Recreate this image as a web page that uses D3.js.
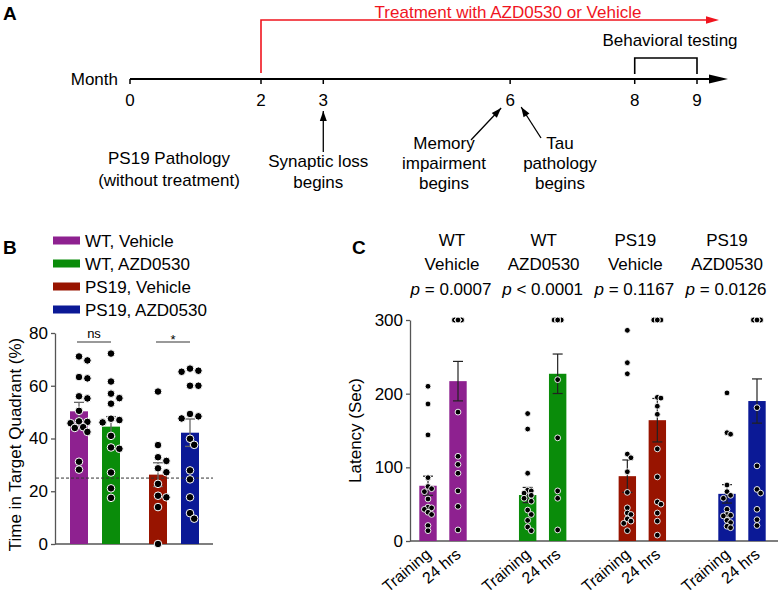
<!DOCTYPE html>
<html><head><meta charset="utf-8">
<script src="https://cdn.jsdelivr.net/npm/d3@7"></script>
<style>
body{margin:0;background:#fff}
svg{display:block}
text{font-family:"Liberation Sans",Arial,Helvetica,sans-serif;fill:#000}
</style>
</head><body>
<svg id="chart" width="778" height="595"></svg>
<script>
// ---------------- Panel A data ----------------
const monthTicks = [0, 2, 3, 6, 8, 9];
const treatmentStart = 2;
const treatmentLabel = "Treatment with AZD0530 or Vehicle";
const testingMonths = [8, 9];
const testingLabel = "Behavioral testing";
const pathologyLabel = ["PS19 Pathology", "(without treatment)"];
const synapticLabel = ["Synaptic loss", "begins"];
const memoryLabel = ["Memory", "impairment", "begins"];
const tauLabel = ["Tau", "pathology", "begins"];

// ---------------- Panel B data ----------------
const bGenotypes = ["WT", "PS19"];
const bTreatments = ["Vehicle", "AZD0530"];
const bLegend = ["WT, Vehicle", "WT, AZD0530", "PS19, Vehicle", "PS19, AZD0530"];
const bColors = ["#8e2190", "#0a8c0a", "#981400", "#0b1996"];
const bMeans = [50.3, 44.5, 26.3, 42.2];
const bSems = [3.4, 3.8, 4.5, 5.2];
const bWTVeh = [71.1, 69.6, 63.3, 62.8, 56.0, 55.2, 50.5, 46.5, 46.3, 45.8, 44.3, 44.0, 42.5, 31.2, 28.2];
const bWTAZD = [72.2, 61.6, 57.0, 55.3, 53.2, 47.5, 47.0, 46.1, 41.0, 36.6, 36.1, 27.1, 21.1, 17.5];
const bPSVeh = [57.8, 37.5, 32.9, 31.5, 28.7, 27.2, 22.8, 18.3, 17.7, 14.0, 0];
const bPSAZD = [66.5, 65.7, 65.3, 60.0, 60.0, 49.3, 48.4, 47.6, 39.9, 37.6, 27.9, 24.5, 17.7, 11.7, 9.6];
const bTicks = [0, 20, 40, 60, 80];
const bChance = 25;
const bSig = ["ns", "*"];
const bYLabel = "Time in Target Quadrant (%)";

// ---------------- Panel C data ----------------
const cGroups = ["WT Vehicle", "WT AZD0530", "PS19 Vehicle", "PS19 AZD0530"];
const cHeadTop = ["WT", "WT", "PS19", "PS19"];
const cHeadBottom = ["Vehicle", "AZD0530", "Vehicle", "AZD0530"];
const cPValues = ["= 0.0007", "< 0.0001", "= 0.1167", "= 0.0126"];
const cSessions = ["Training", "24 hrs"];
const cColors = ["#8e2190", "#0a8c0a", "#981400", "#0b1996"];
const cMeansTraining = [75, 62.4, 88, 64];
const cMeans24h = [217, 227, 164, 190];
const cSemsTraining = [13, 10.3, 22, 12.5];
const cSems24h = [26.8, 26.8, 29.5, 30];
const cWTVehTrain = [210, 186, 144, 86, 74, 71, 67, 57, 46, 45, 43, 39, 36, 21, 14];
const cWTVeh24 = [300, 300, 300, 300, 300, 300, 300, 300, 300, 300, 300, 175, 115, 104, 92, 68, 47, 15];
const cWTAZDTrain = [173, 152, 92, 69, 68, 65, 62, 58, 54, 42, 36, 28, 19, 14];
const cWTAZD24 = [300, 300, 300, 300, 300, 300, 300, 300, 300, 219, 140, 68, 58, 15];
const cPSVehTrain = [286, 242, 227, 118, 113, 94, 66, 45, 38, 36, 30, 27, 24, 14];
const cPSVeh24 = [300, 300, 300, 300, 300, 195, 194, 183, 172, 125, 87, 53, 50, 38, 27, 8];
const cPSAZDTrain = [201, 147, 145, 76, 67, 62, 58, 43, 36, 35, 34, 28, 25, 20, 18];
const cPSAZD24 = [300, 300, 300, 300, 300, 300, 300, 181, 102, 70, 65, 43, 29, 21];
const cTicks = [0, 100, 200, 300];
const cYLabel = "Latency (Sec)";

// ---------------- helpers ----------------
const svg = d3.select("#chart");
const FS = 17;

function swarm(values, y, r, step, maxSteps) {
  const placed = [];
  const thr = 2 * r * 0.85;
  const cands = [0];
  for (let k = 1; k <= maxSteps; k++) { cands.push(k * step, -k * step); }
  values.forEach(v => {
    const py = y(v);
    let best = null, bestD = -1;
    for (const c of cands) {
      let md = Infinity;
      placed.forEach(p => { md = Math.min(md, Math.hypot(p.dx - c, p.py - py)); });
      if (md >= thr) { best = c; bestD = md; break; }
      if (md > bestD) { bestD = md; best = c; }
    }
    placed.push({ v, py, dx: best });
  });
  return placed;
}

function arrowHead(g, x1, y1, x2, y2, len, half, color) {
  const a = Math.atan2(y2 - y1, x2 - x1);
  const bx = x2 - len * Math.cos(a), by = y2 - len * Math.sin(a);
  const px = -Math.sin(a) * half, py = Math.cos(a) * half;
  g.append("path")
    .attr("d", `M${x2},${y2}L${bx + px},${by + py}L${bx - px},${by - py}Z`)
    .attr("fill", color);
}

// ================= Panel A =================
const gA = svg.append("g");
const xA = d3.scaleLinear().domain([0, 2, 9]).range([130, 261, 697]);
const axY = 79;
gA.append("text").attr("x", 3).attr("y", 20).attr("font-size", 19).attr("font-weight", "bold").text("A");
gA.append("text").attr("x", 118).attr("y", 85).attr("text-anchor", "end").attr("font-size", FS).text("Month");
gA.append("line").attr("x1", xA(0)).attr("x2", xA(9) + 16).attr("y1", axY).attr("y2", axY)
  .attr("stroke", "#000").attr("stroke-width", 2);
arrowHead(gA, xA(0), axY, xA(9) + 31, axY, 19, 4.5, "#000");
gA.selectAll(".mt").data(monthTicks).enter().append("line")
  .attr("x1", d => xA(d)).attr("x2", d => xA(d)).attr("y1", axY).attr("y2", axY + 5)
  .attr("stroke", "#000").attr("stroke-width", 1.5);
gA.selectAll(".ml").data(monthTicks).enter().append("text")
  .attr("x", d => xA(d)).attr("y", 106).attr("text-anchor", "middle").attr("font-size", FS).text(d => d);

// treatment red arrow
const red = "#f0141e";
gA.append("path").attr("d", `M${xA(treatmentStart)},${axY - 6}V20H${xA(9) + 10}`)
  .attr("fill", "none").attr("stroke", red).attr("stroke-width", 1.6);
arrowHead(gA, xA(treatmentStart), 20, xA(9) + 22, 20, 13, 3.8, red);
gA.append("text").attr("x", 508).attr("y", 18).attr("text-anchor", "middle").attr("font-size", FS)
  .style("fill", red).text(treatmentLabel);

// behavioral testing bracket
gA.append("path").attr("d", `M${xA(testingMonths[0])},${axY - 5}V58H${xA(testingMonths[1])}V${axY - 5}`)
  .attr("fill", "none").attr("stroke", "#000").attr("stroke-width", 1.6);
gA.append("text").attr("x", 670).attr("y", 46).attr("text-anchor", "middle").attr("font-size", FS).text(testingLabel);

function multiline(g, lines, x, y0, dy) {
  lines.forEach((t, i) => g.append("text").attr("x", x).attr("y", y0 + i * dy)
    .attr("text-anchor", "middle").attr("font-size", FS).text(t));
}
multiline(gA, pathologyLabel, 169, 164, 22);
multiline(gA, synapticLabel, xA(3) - 5, 167, 21);
multiline(gA, memoryLabel, 444, 149, 20);
multiline(gA, tauLabel, 560, 149, 20);

function annArrow(x1, y1, x2, y2) {
  gA.append("line").attr("x1", x1).attr("y1", y1).attr("x2", x2).attr("y2", y2)
    .attr("stroke", "#000").attr("stroke-width", 1.3);
  arrowHead(gA, x1, y1, x2, y2, 10, 3.5, "#000");
}
annArrow(xA(3), 152, xA(3), 111);
annArrow(471, 140, xA(6) - 9, 108);
annArrow(541, 138, xA(6) + 11, 107);

// ================= Panel B =================
const gB = svg.append("g");
gB.append("text").attr("x", 3).attr("y", 254).attr("font-size", 19).attr("font-weight", "bold").text("B");
bLegend.forEach((t, i) => {
  const cy = 240.5 + i * 23;
  gB.append("rect").attr("x", 53).attr("y", cy - 4).attr("width", 27).attr("height", 8).attr("fill", bColors[i]);
  gB.append("text").attr("x", 85).attr("y", cy + 6).attr("font-size", FS).text(t);
});

const yB = d3.scaleLinear().domain([0, 80]).range([544, 333]);
const xBg = d3.scalePoint().domain(bGenotypes).range([95, 174]);
const xBi = d3.scaleBand().domain(bTreatments).range([-32, 32]).paddingInner(0.4375).paddingOuter(0.21875);
const bDots = [bWTVeh, bWTAZD, bPSVeh, bPSAZD];
const bRows = [];
bGenotypes.forEach(g => bTreatments.forEach(t => bRows.push({ g, t })));
bRows.forEach((r, i) => {
  r.mean = bMeans[i]; r.sem = bSems[i]; r.color = bColors[i]; r.dots = bDots[i];
  r.x0 = xBg(r.g) + xBi(r.t); r.cx = r.x0 + xBi.bandwidth() / 2;
});

// axes
const axB = gB.append("g").attr("transform", "translate(55,0)")
  .call(d3.axisLeft(yB).tickValues(bTicks).tickSize(4).tickSizeOuter(0).tickPadding(3));
axB.select(".domain").attr("stroke", "#555").attr("stroke-width", 1.3);
axB.selectAll(".tick line").attr("stroke", "#555").attr("stroke-width", 1.3);
axB.selectAll(".tick text").attr("font-size", FS).attr("font-family", "Liberation Sans, Arial, sans-serif").style("fill", "#000");
gB.append("line").attr("x1", 55).attr("x2", 213).attr("y1", yB(0)).attr("y2", yB(0)).attr("stroke", "#555").attr("stroke-width", 1.3);
gB.append("text").attr("transform", `translate(21,${(yB(0) + yB(80)) / 2 + 6}) rotate(-90)`)
  .attr("text-anchor", "middle").attr("font-size", FS).text(bYLabel);

// bars
gB.selectAll(".bb").data(bRows).enter().append("rect")
  .attr("x", d => d.x0).attr("width", xBi.bandwidth())
  .attr("y", d => yB(d.mean)).attr("height", d => yB(0) - yB(d.mean)).attr("fill", d => d.color);
// chance line
gB.append("line").attr("x1", 56).attr("x2", 213).attr("y1", yB(bChance)).attr("y2", yB(bChance))
  .attr("stroke", "#333").attr("stroke-width", 1).attr("stroke-dasharray", "3,2");
// error bars
bRows.forEach(d => {
  const g = gB.append("g").attr("stroke", "#666").attr("stroke-width", 1.3);
  g.append("line").attr("x1", d.cx).attr("x2", d.cx).attr("y1", yB(d.mean + d.sem)).attr("y2", yB(d.mean - d.sem));
  g.append("line").attr("x1", d.cx - 5).attr("x2", d.cx + 5).attr("y1", yB(d.mean + d.sem)).attr("y2", yB(d.mean + d.sem));
  g.append("line").attr("x1", d.cx - 5).attr("x2", d.cx + 5).attr("y1", yB(d.mean - d.sem)).attr("y2", yB(d.mean - d.sem));
});
// dots
bRows.forEach(d => {
  const pts = swarm(d.dots, yB, 3.8, 4.2, 2);
  gB.selectAll(null).data(pts).enter().append("circle")
    .attr("cx", p => d.cx + p.dx).attr("cy", p => p.py).attr("r", 3.8)
    .attr("fill", "#000").attr("stroke", "#fff").attr("stroke-width", 1);
});
// significance
bGenotypes.forEach((g, i) => {
  const xa = xBg(g) + xBi(bTreatments[0]) + xBi.bandwidth() / 2 - 2;
  const xb = xBg(g) + xBi(bTreatments[1]) + xBi.bandwidth() / 2;
  gB.append("line").attr("x1", xa).attr("x2", xb).attr("y1", 342).attr("y2", 342).attr("stroke", "#777").attr("stroke-width", 1.3);
  gB.append("text").attr("x", (xa + xb) / 2).attr("y", i === 0 ? 338 : 344).attr("text-anchor", "middle")
    .attr("font-size", 13).text(bSig[i]);
});

// ================= Panel C =================
const gC = svg.append("g");
gC.append("text").attr("x", 352).attr("y", 254).attr("font-size", 19).attr("font-weight", "bold").text("C");
const yC = d3.scaleLinear().domain([0, 300]).range([541, 320]);
const xCg = d3.scalePoint().domain(cGroups).range([443, 742]);
const xCi = d3.scaleBand().domain(cSessions).range([-30, 30]).paddingInner(0.42).paddingOuter(0.21);
const xHead = d3.scalePoint().domain(cGroups).range([452, 727]);

cGroups.forEach((g, i) => {
  gC.append("text").attr("x", xHead(g)).attr("y", 246).attr("text-anchor", "middle").attr("font-size", FS).text(cHeadTop[i]);
  gC.append("text").attr("x", xHead(g)).attr("y", 270).attr("text-anchor", "middle").attr("font-size", FS).text(cHeadBottom[i]);
  const t = gC.append("text").attr("x", xHead(g) - 1).attr("y", 295).attr("text-anchor", "middle").attr("font-size", FS);
  t.append("tspan").attr("font-style", "italic").text("p");
  t.append("tspan").text(" " + cPValues[i]);
});

const axC = gC.append("g").attr("transform", "translate(410,0)")
  .call(d3.axisLeft(yC).tickValues(cTicks).tickSize(4).tickSizeOuter(0).tickPadding(3));
axC.select(".domain").attr("stroke", "#555").attr("stroke-width", 1.3);
axC.selectAll(".tick line").attr("stroke", "#555").attr("stroke-width", 1.3);
axC.selectAll(".tick text").attr("font-size", FS).attr("font-family", "Liberation Sans, Arial, sans-serif").style("fill", "#000");
gC.append("line").attr("x1", 410).attr("x2", 778).attr("y1", yC(0)).attr("y2", yC(0)).attr("stroke", "#555").attr("stroke-width", 1.3);
gC.append("text").attr("transform", `translate(361,${(yC(0) + yC(300)) / 2}) rotate(-90)`)
  .attr("text-anchor", "middle").attr("font-size", FS).text(cYLabel);

const cDotsTrain = [cWTVehTrain, cWTAZDTrain, cPSVehTrain, cPSAZDTrain];
const cDots24 = [cWTVeh24, cWTAZD24, cPSVeh24, cPSAZD24];
const cRows = [];
cGroups.forEach((g, i) => {
  cRows.push({ g, s: cSessions[0], mean: cMeansTraining[i], sem: cSemsTraining[i], dots: cDotsTrain[i], color: cColors[i] });
  cRows.push({ g, s: cSessions[1], mean: cMeans24h[i], sem: cSems24h[i], dots: cDots24[i], color: cColors[i] });
});
cRows.forEach(d => { d.x0 = xCg(d.g) + xCi(d.s); d.cx = d.x0 + xCi.bandwidth() / 2; });

gC.selectAll(".cb").data(cRows).enter().append("rect")
  .attr("x", d => d.x0).attr("width", xCi.bandwidth())
  .attr("y", d => yC(d.mean)).attr("height", d => yC(0) - yC(d.mean)).attr("fill", d => d.color);
cRows.forEach(d => {
  const g = gC.append("g").attr("stroke", "#222").attr("stroke-width", 1.2);
  g.append("line").attr("x1", d.cx).attr("x2", d.cx).attr("y1", yC(d.mean + d.sem)).attr("y2", yC(d.mean - d.sem));
  g.append("line").attr("x1", d.cx - 5).attr("x2", d.cx + 5).attr("y1", yC(d.mean + d.sem)).attr("y2", yC(d.mean + d.sem));
  g.append("line").attr("x1", d.cx - 5).attr("x2", d.cx + 5).attr("y1", yC(d.mean - d.sem)).attr("y2", yC(d.mean - d.sem));
});
cRows.forEach(d => {
  const pts = swarm(d.dots, yC, 2.9, 3.6, 1);
  gC.selectAll(null).data(pts).enter().append("circle")
    .attr("cx", p => d.cx + p.dx).attr("cy", p => p.py).attr("r", 2.9)
    .attr("fill", "#000").attr("stroke", "#fff").attr("stroke-width", 0.9);
});
// x labels
cRows.forEach(d => {
  gC.append("text").attr("transform", `translate(${d.cx + 4},${yC(0) + 15}) rotate(-40)`)
    .attr("text-anchor", "end").attr("font-size", 16).text(d.s);
});
</script>
</body></html>
